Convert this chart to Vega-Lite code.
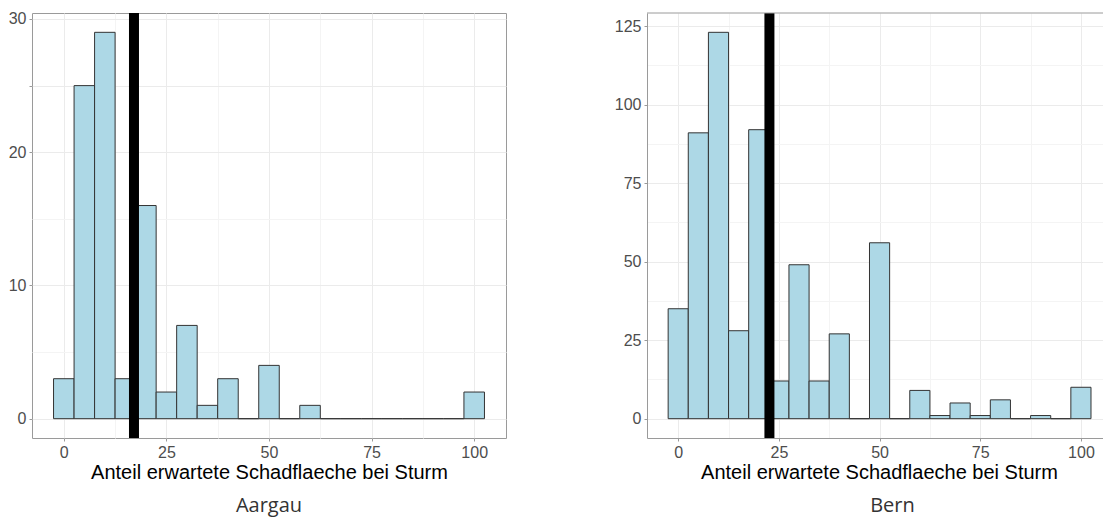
{
  "$schema": "https://vega.github.io/schema/vega-lite/v6.json",
  "padding": {"left": 7, "top": 7, "right": 0, "bottom": 0},
  "bounds": "flush",
  "spacing": 141,
  "background": "white",
  "datasets": {
    "hist": [
      {"region": "Aargau", "lo": -2.5, "hi": 2.5, "count": 3},
      {"region": "Aargau", "lo": 2.5, "hi": 7.5, "count": 25},
      {"region": "Aargau", "lo": 7.5, "hi": 12.5, "count": 29},
      {"region": "Aargau", "lo": 12.5, "hi": 17.5, "count": 3},
      {"region": "Aargau", "lo": 17.5, "hi": 22.5, "count": 16},
      {"region": "Aargau", "lo": 22.5, "hi": 27.5, "count": 2},
      {"region": "Aargau", "lo": 27.5, "hi": 32.5, "count": 7},
      {"region": "Aargau", "lo": 32.5, "hi": 37.5, "count": 1},
      {"region": "Aargau", "lo": 37.5, "hi": 42.5, "count": 3},
      {"region": "Aargau", "lo": 42.5, "hi": 47.5, "count": 0},
      {"region": "Aargau", "lo": 47.5, "hi": 52.5, "count": 4},
      {"region": "Aargau", "lo": 52.5, "hi": 57.5, "count": 0},
      {"region": "Aargau", "lo": 57.5, "hi": 62.5, "count": 1},
      {"region": "Aargau", "lo": 62.5, "hi": 67.5, "count": 0},
      {"region": "Aargau", "lo": 67.5, "hi": 72.5, "count": 0},
      {"region": "Aargau", "lo": 72.5, "hi": 77.5, "count": 0},
      {"region": "Aargau", "lo": 77.5, "hi": 82.5, "count": 0},
      {"region": "Aargau", "lo": 82.5, "hi": 87.5, "count": 0},
      {"region": "Aargau", "lo": 87.5, "hi": 92.5, "count": 0},
      {"region": "Aargau", "lo": 92.5, "hi": 97.5, "count": 0},
      {"region": "Aargau", "lo": 97.5, "hi": 102.5, "count": 2},
      {"region": "Bern", "lo": -2.5, "hi": 2.5, "count": 35},
      {"region": "Bern", "lo": 2.5, "hi": 7.5, "count": 91},
      {"region": "Bern", "lo": 7.5, "hi": 12.5, "count": 123},
      {"region": "Bern", "lo": 12.5, "hi": 17.5, "count": 28},
      {"region": "Bern", "lo": 17.5, "hi": 22.5, "count": 92},
      {"region": "Bern", "lo": 22.5, "hi": 27.5, "count": 12},
      {"region": "Bern", "lo": 27.5, "hi": 32.5, "count": 49},
      {"region": "Bern", "lo": 32.5, "hi": 37.5, "count": 12},
      {"region": "Bern", "lo": 37.5, "hi": 42.5, "count": 27},
      {"region": "Bern", "lo": 42.5, "hi": 47.5, "count": 0},
      {"region": "Bern", "lo": 47.5, "hi": 52.5, "count": 56},
      {"region": "Bern", "lo": 52.5, "hi": 57.5, "count": 0},
      {"region": "Bern", "lo": 57.5, "hi": 62.5, "count": 9},
      {"region": "Bern", "lo": 62.5, "hi": 67.5, "count": 1},
      {"region": "Bern", "lo": 67.5, "hi": 72.5, "count": 5},
      {"region": "Bern", "lo": 72.5, "hi": 77.5, "count": 1},
      {"region": "Bern", "lo": 77.5, "hi": 82.5, "count": 6},
      {"region": "Bern", "lo": 82.5, "hi": 87.5, "count": 0},
      {"region": "Bern", "lo": 87.5, "hi": 92.5, "count": 1},
      {"region": "Bern", "lo": 92.5, "hi": 97.5, "count": 0},
      {"region": "Bern", "lo": 97.5, "hi": 102.5, "count": 10}
    ],
    "means": [
      {"region": "Aargau", "mean": 17.1},
      {"region": "Bern", "mean": 22.65}
    ]
  },
  "hconcat": [
    {
      "width": 474,
      "height": 425,
      "title": {"text": "Aargau", "orient": "bottom", "anchor": "middle", "frame": "group", "font": "Open Sans", "fontSize": 20, "fontWeight": "normal", "color": "#333333", "offset": 14},
      "view": {"stroke": "#9A9A9A", "strokeWidth": 1},
      "layer": [
        {
          "data": {"name": "hist"},
          "transform": [{"filter": "datum.region === 'Aargau'"}],
          "mark": {"type": "bar", "fill": "#ADD8E6", "stroke": "#333333", "strokeWidth": 1},
          "encoding": {
            "x": {"field": "lo", "type": "quantitative",
                  "scale": {"domain": [-7.75, 107.75], "nice": false, "zero": false},
                  "axis": {"values": [0, 12.5, 25, 37.5, 50, 62.5, 75, 87.5, 100],
                           "labelExpr": "datum.value % 25 === 0 ? datum.label : ''",
                           "title": "Anteil erwartete Schadflaeche bei Sturm"}},
            "x2": {"field": "hi"},
            "y": {"field": "count", "type": "quantitative",
                  "scale": {"domain": [-1.45, 30.45], "nice": false, "zero": false},
                  "axis": {"values": [0, 5, 10, 15, 20, 25, 30],
                           "labelExpr": "datum.value % 10 === 0 ? datum.label : ''",
                           "title": null}},
            "y2": {"datum": 0}
          }
        },
        {
          "data": {"name": "means"},
          "transform": [{"filter": "datum.region === 'Aargau'"}],
          "mark": {"type": "rule", "color": "black", "strokeWidth": 10},
          "encoding": {"x": {"field": "mean", "type": "quantitative"}}
        }
      ]
    },
    {
      "width": 457,
      "height": 425,
      "title": {"text": "Bern", "orient": "bottom", "anchor": "middle", "frame": "group", "font": "Open Sans", "fontSize": 20, "fontWeight": "normal", "color": "#333333", "offset": 14, "dx": 17},
      "view": {"stroke": null},
      "layer": [
        {
          "data": {"name": "hist"},
          "transform": [{"filter": "datum.region === 'Bern'"}],
          "mark": {"type": "bar", "fill": "#ADD8E6", "stroke": "#333333", "strokeWidth": 1},
          "encoding": {
            "x": {"field": "lo", "type": "quantitative",
                  "scale": {"domain": [-7.75, 105.73], "nice": false, "zero": false},
                  "axis": {"values": [0, 12.5, 25, 37.5, 50, 62.5, 75, 87.5, 100],
                           "labelExpr": "datum.value % 25 === 0 ? datum.label : ''",
                           "title": "Anteil erwartete Schadflaeche bei Sturm",
                           "titleX": 232, "domain": true}},
            "x2": {"field": "hi"},
            "y": {"field": "count", "type": "quantitative",
                  "scale": {"domain": [-6.15, 129.15], "nice": false, "zero": false},
                  "axis": {"values": [0, 12.5, 25, 37.5, 50, 62.5, 75, 87.5, 100, 112.5, 125],
                           "labelExpr": "datum.value % 25 === 0 ? datum.label : ''",
                           "title": null, "domain": true}},
            "y2": {"datum": 0}
          }
        },
        {
          "data": {"name": "means"},
          "transform": [{"filter": "datum.region === 'Bern'"}],
          "mark": {"type": "rule", "color": "black", "strokeWidth": 10},
          "encoding": {"x": {"field": "mean", "type": "quantitative"}}
        },
        {
          "data": {"values": [{}]},
          "mark": {"type": "rule", "color": "#9A9A9A", "strokeWidth": 1},
          "encoding": {"y": {"datum": 129.15}}
        }
      ]
    }
  ],
  "config": {
    "font": "Liberation Sans",
    "axis": {
      "domain": false,
      "domainColor": "#9A9A9A",
      "domainWidth": 1,
      "grid": true,
      "gridColor": {"condition": {"test": "datum.value % 25 === 0 || datum.value % 10 === 0", "value": "#EBEBEB"}, "value": "#F4F4F4"},
      "gridWidth": 1,
      "tickColor": "#9A9A9A",
      "tickSize": 3,
      "tickWidth": 1,
      "tickOpacity": {"condition": {"test": "datum.value % 25 === 0 || datum.value % 10 === 0", "value": 1}, "value": 0},
      "labelFont": "Liberation Sans",
      "labelFontSize": 16,
      "labelColor": "#4D4D4D",
      "labelPadding": 3,
      "labelFlush": false,
      "labelOverlap": false,
      "titleFont": "Liberation Sans",
      "titleFontSize": 20,
      "titleFontWeight": "normal",
      "titleColor": "#000000",
      "titlePadding": 2
    }
  }
}
